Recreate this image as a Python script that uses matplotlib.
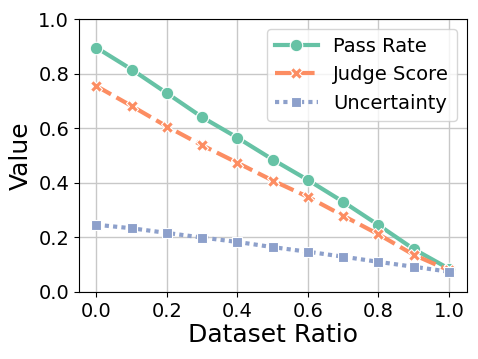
import matplotlib
matplotlib.use("Agg")
import matplotlib.pyplot as plt

ratios = [0.0, 0.1, 0.2, 0.3, 0.4, 0.5, 0.6, 0.7, 0.8, 0.9, 1.0]
pass_rate = [0.895, 0.815, 0.728, 0.640, 0.565, 0.485, 0.410, 0.330, 0.245, 0.157, 0.085]
judge_score = [0.754, 0.681, 0.606, 0.537, 0.473, 0.408, 0.348, 0.279, 0.211, 0.136, 0.079]
uncertainty = [0.246, 0.233, 0.216, 0.199, 0.183, 0.164, 0.147, 0.129, 0.110, 0.092, 0.074]

fig, ax = plt.subplots(figsize=(4.78, 3.59), dpi=100)

ax.plot(ratios, pass_rate, color="#66c2a5", lw=3, ls="-", marker="o", ms=9,
        mec="white", mew=0.8, label="Pass Rate", zorder=3)
ax.plot(ratios, judge_score, color="#fc8d62", lw=3, ls=(0, (4, 1.5)), marker="X", ms=9,
        mec="white", mew=0.8, label="Judge Score", zorder=3)
ax.plot(ratios, uncertainty, color="#8da0cb", lw=3, ls=(0, (1, 1)), marker="s", ms=7,
        mec="white", mew=0.8, label="Uncertainty", zorder=3)

ax.set_xlim(-0.05, 1.05)
ax.set_ylim(0, 1.0)
ax.set_xticks([0.0, 0.2, 0.4, 0.6, 0.8, 1.0])
ax.set_yticks([0.0, 0.2, 0.4, 0.6, 0.8, 1.0])
ax.tick_params(labelsize=14)
ax.set_xlabel("Dataset Ratio", fontsize=18, labelpad=2)
ax.set_ylabel("Value", fontsize=18)
ax.grid(True, color="#c8c8c8", lw=1)
ax.legend(loc="upper right", fontsize=14, handlelength=2.2)

fig.subplots_adjust(left=0.165, right=0.976, top=0.947, bottom=0.187)
fig.savefig("out.png")
